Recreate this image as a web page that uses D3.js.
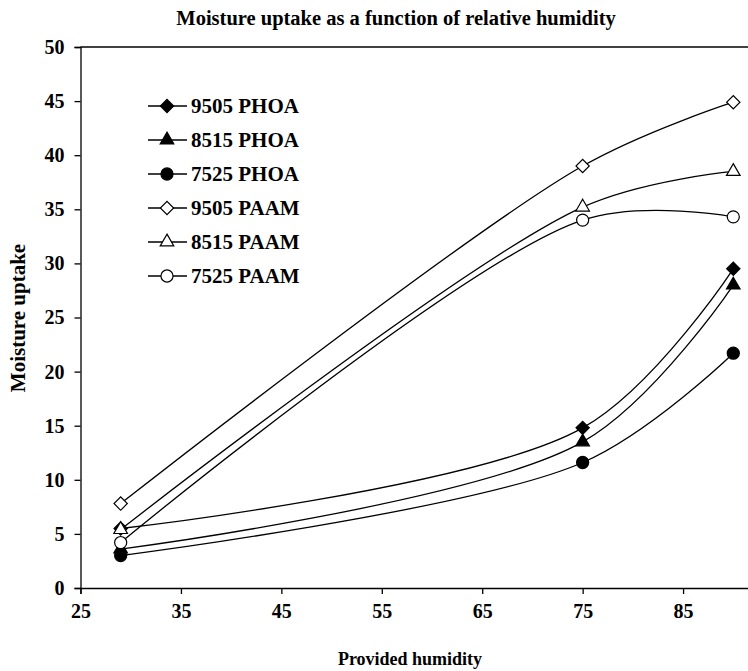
<!DOCTYPE html>
<html>
<head>
<meta charset="utf-8">
<script src="https://cdn.jsdelivr.net/npm/d3@7"></script>
<style>
  body { margin: 0; background: #fff; }
  text { font-family: "Liberation Serif", "Times New Roman", serif; font-weight: bold; fill: #000; }
</style>
</head>
<body>
<script>
// humidity levels and uptake per sample
var humidity = [29, 75, 90];
var seriesNames = ["9505 PHOA", "8515 PHOA", "7525 PHOA", "9505 PAAM", "8515 PAAM", "7525 PAAM"];
var phoa9505 = [5.5, 14.8, 29.5];
var phoa8515 = [3.6, 13.5, 28.0];
var phoa7525 = [3.0, 11.6, 21.7];
var paam9505 = [7.8, 39.0, 44.9];
var paam8515 = [5.4, 35.2, 38.5];
var paam7525 = [4.2, 34.0, 34.3];
var xTicks = [25, 35, 45, 55, 65, 75, 85];
var yTicks = [0, 5, 10, 15, 20, 25, 30, 35, 40, 45, 50];

var values = [phoa9505, phoa8515, phoa7525, paam9505, paam8515, paam7525];
var shapes = ["diamond", "triangle", "circle", "diamond", "triangle", "circle"];
var filled = [true, true, true, false, false, false];

var series = seriesNames.map(function(n, i) {
    return { name: n, shape: shapes[i], filled: filled[i],
             points: humidity.map(function(h, j) { return [h, values[i][j]]; }) };
});

var width = 748, height = 671;

var svg = d3.select("body").append("svg")
    .attr("width", width)
    .attr("height", height);

var x = d3.scaleLinear().domain([25, 95]).range([80.5, 783.5]);
var y = d3.scaleLinear().domain([0, 50]).range([588, 47]);

// top frame line
svg.append("line")
    .attr("x1", x(25)).attr("x2", width)
    .attr("y1", y(50)).attr("y2", y(50))
    .attr("stroke", "#000").attr("stroke-width", 1.3);

// axes
var xAxis = d3.axisBottom(x).tickValues(xTicks).tickSize(6).tickPadding(10);
var yAxis = d3.axisLeft(y).tickValues(yTicks).tickSize(6).tickPadding(10);

var gx = svg.append("g").attr("transform", "translate(0," + y(0) + ")").call(xAxis);
var gy = svg.append("g").attr("transform", "translate(" + x(25) + ",0)").call(yAxis);

[gx, gy].forEach(function(g) {
    g.select(".domain").attr("stroke", "#000").attr("stroke-width", 1.3);
    g.selectAll(".tick line").attr("stroke", "#000").attr("stroke-width", 1.3);
    g.selectAll(".tick text")
        .style("font-family", "'Liberation Serif', serif")
        .style("font-weight", "bold")
        .style("font-size", "20px")
        .attr("fill", "#000");
});

function symbolFor(shape) {
    if (shape === "diamond") return d3.symbol().type(d3.symbolSquare).size(88);
    if (shape === "triangle") return d3.symbol().type(d3.symbolTriangle).size(80);
    return d3.symbol().type(d3.symbolCircle).size(115);
}

var line = d3.line()
    .x(function(d) { return x(d[0]); })
    .y(function(d) { return y(d[1]); })
    .curve(d3.curveCatmullRom.alpha(0.5));

// lines first
svg.selectAll(".series-line")
    .data(series)
  .enter().append("path")
    .attr("class", "series-line")
    .attr("d", function(d) { return line(d.points); })
    .attr("fill", "none")
    .attr("stroke", "#000")
    .attr("stroke-width", 1.3);

// markers
series.forEach(function(s) {
    svg.selectAll(null)
        .data(s.points)
      .enter().append("path")
        .attr("d", symbolFor(s.shape)())
        .attr("transform", function(d) {
            var t = "translate(" + x(d[0]) + "," + y(d[1]) + ")";
            if (s.shape === "diamond") t += " rotate(45)";
            return t;
        })
        .attr("fill", s.filled ? "#000" : "#fff")
        .attr("stroke", "#000")
        .attr("stroke-width", 1.2);
});

// legend
var legend = svg.append("g").attr("transform", "translate(148,106)");
var item = legend.selectAll("g")
    .data(series)
  .enter().append("g")
    .attr("transform", function(d, i) { return "translate(0," + i * 34 + ")"; });

item.append("line")
    .attr("x1", 0).attr("x2", 39)
    .attr("stroke", "#000").attr("stroke-width", 1.3);

item.append("path")
    .attr("d", function(d) { return symbolFor(d.shape)(); })
    .attr("transform", function(d) { return "translate(19,0)" + (d.shape === "diamond" ? " rotate(45)" : ""); })
    .attr("fill", function(d) { return d.filled ? "#000" : "#fff"; })
    .attr("stroke", "#000")
    .attr("stroke-width", 1.2);

item.append("text")
    .attr("x", 43)
    .attr("dy", "0.35em")
    .style("font-size", "21px")
    .text(function(d) { return d.name; });

// titles
svg.append("text")
    .attr("x", 396)
    .attr("y", 25)
    .attr("text-anchor", "middle")
    .style("font-size", "20.5px")
    .text("Moisture uptake as a function of relative humidity");

svg.append("text")
    .attr("x", 410)
    .attr("y", 665)
    .attr("text-anchor", "middle")
    .style("font-size", "18px")
    .text("Provided humidity");

svg.append("text")
    .attr("transform", "translate(25,318) rotate(-90)")
    .attr("text-anchor", "middle")
    .style("font-size", "21px")
    .text("Moisture uptake");
</script>
</body>
</html>
